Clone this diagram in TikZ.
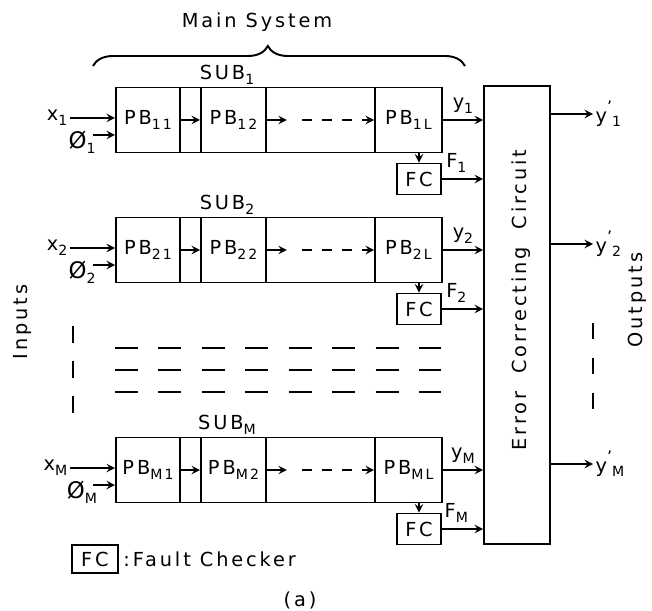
\documentclass[tikz,border=0pt]{standalone}
\usepackage{fontspec}
\setmainfont[LetterSpace=15]{DejaVu Sans}
\usetikzlibrary{decorations.pathreplacing}
\newcommand{\lowidx}[1]{\raisebox{-0.45ex}{\fontsize{8}{9}\selectfont#1}}
\newcommand{\youtlabel}[1]{y\raisebox{0.9ex}{\fontsize{9}{9}\selectfont’}\lowidx{#1}}

\begin{document}
\begin{tikzpicture}[x=0.02cm, y=-0.02cm, >=stealth, line width=1.1pt,
    font=\fontsize{11}{13}\selectfont,
    blk/.style={draw, minimum height=1.3cm, inner sep=0pt, anchor=west},
    fcbox/.style={draw, minimum width=0.88cm, minimum height=0.62cm, inner sep=0pt}]
    \useasboundingbox (0,0) rectangle (652,611);

    \node (title) at (257,22) {Main System};
    \draw[decorate, decoration={brace, amplitude=0.4cm, aspect=0.47}] (93,66) -- (465,66);

    % error correcting circuit
    \node[draw, minimum width=1.32cm, minimum height=9.16cm] (ecc) at (517,315) {};
    \node[rotate=90] (ecctext) at (521,300) {Error\ \ Correcting\ \ Circuit};

    % the subsystems
    \foreach \i/\cy in {1/120, 2/250, M/470} {
        \node[blk, minimum width=6.52cm] (sub\i) at (115,\cy) {};
        \node[blk, minimum width=1.28cm] (pb\i1) at (115,\cy) {PB\lowidx{\i1}};
        \node[blk, minimum width=1.3cm] (pb\i2) at (200,\cy) {PB\lowidx{\i2}};
        \node[blk, minimum width=1.34cm] (pb\i L) at (374,\cy) {PB\lowidx{\i L}};
        \node (sublabel\i) at (227,\cy-45) {SUB\lowidx{\i}};

        % inputs
        \coordinate (a\i) at (70,\cy-2);
        \draw[->] (a\i) -- (a\i -| pb\i1.west);
        \node[left, inner sep=1pt] (x\i) at (a\i) {x\lowidx{\i}};
        \coordinate (p\i) at (93,\cy+15);
        \draw[->] (p\i) -- (p\i -| pb\i1.west);
        \node (ph\i) at (82,\cy+22) {{\fontsize{13}{13}\selectfont Ø}\lowidx{\i}};

        % chain of blocks
        \draw[->] (pb\i1) -- (pb\i2);
        \coordinate (d\i) at ([xshift=0.4cm]pb\i2.east);
        \draw[->] (pb\i2) -- (d\i);
        \draw[->, dash pattern=on 0.2cm off 0.2cm] ([xshift=0.3cm]d\i) -- (pb\i L);

        % outputs and fault checkers
        \draw[->] (pb\i L) -- (pb\i L -| ecc.west) node[midway, above] {y\lowidx{\i}};
        \node[fcbox] (fc\i) at (419,\cy+59) {FC};
        \draw[->] (fc\i.north |- pb\i L.south) -- (fc\i);
        \draw[->] (fc\i) -- (fc\i -| ecc.west) node[pos=0.35, above] {F\lowidx{\i}};

        \coordinate (q\i) at (593,\cy-6);
        \draw[->] (q\i -| ecc.east) -- (q\i);
        \node[right, inner sep=1pt] (out\i) at (q\i) {\youtlabel{\i}};
    }

    % omitted rows
    \foreach \yy in {348,370,392}
        \draw[line width=1.3pt, dash pattern=on 0.46cm off 0.41cm] (115,\yy) -- (441,\yy);
    \draw[line width=1.3pt, dash pattern=on 0.34cm off 0.36cm] (73,326) -- (73,417);
    \draw[line width=1.3pt, dash pattern=on 0.32cm off 0.38cm] (593,323) -- (593,410);

    \node[rotate=90] (inputs) at (22,322) {Inputs};
    \node[rotate=90] (outputs) at (637,300) {Outputs};

    % legend
    \node[draw, minimum width=0.92cm, minimum height=0.56cm, inner sep=0pt] (fckey) at (95,559) {FC};
    \node[right, inner sep=2pt] (fctext) at (fckey.east) {:Fault Checker};
    \node (caption) at (300,600) {(a)};
\end{tikzpicture}
\end{document}
